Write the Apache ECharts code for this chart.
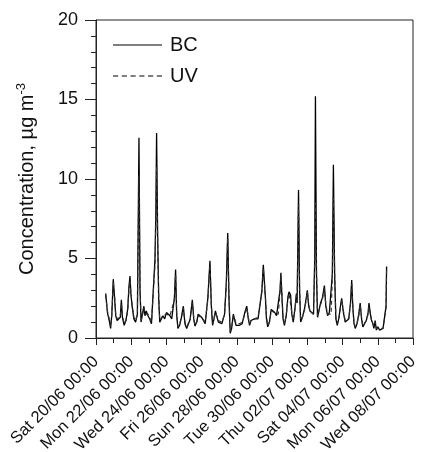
<!DOCTYPE html>
<html>
<head>
<meta charset="utf-8">
<script src="https://cdn.jsdelivr.net/npm/echarts@6/dist/echarts.min.js"></script>
<style>
html,body{margin:0;padding:0;background:#fff;}
#chart{width:422px;height:452px;}
</style>
</head>
<body>
<div id="chart"></div>
<script>
// time in days since Sat 20/06 00:00
const days = [0.55,0.65,0.75,0.83,0.9,0.98,1.05,1.12,1.2,1.3,1.38,1.44,1.5,1.6,1.7,1.8,1.87,1.93,1.98,2.05,2.15,2.25,2.35,2.44,2.5,2.56,2.65,2.72,2.78,2.85,2.95,3.05,3.15,3.25,3.35,3.4,3.44,3.5,3.56,3.62,3.7,3.8,3.9,4.0,4.1,4.2,4.3,4.45,4.52,4.58,4.65,4.75,4.85,4.96,5.05,5.15,5.25,5.35,5.47,5.55,5.62,5.72,5.8,5.9,6.0,6.1,6.2,6.35,6.47,6.55,6.62,6.7,6.78,6.85,6.95,7.05,7.15,7.3,7.4,7.48,7.55,7.62,7.7,7.8,7.88,7.95,8.05,8.15,8.3,8.45,8.56,8.65,8.72,8.8,8.9,9.0,9.1,9.2,9.3,9.42,9.5,9.56,9.62,9.68,9.75,9.85,9.95,10.05,10.15,10.25,10.35,10.45,10.5,10.55,10.62,10.7,10.8,10.9,10.96,11.05,11.12,11.2,11.3,11.38,11.42,11.5,11.56,11.62,11.72,11.85,11.95,12.0,12.08,12.15,12.25,12.35,12.42,12.46,12.52,12.58,12.65,12.75,12.85,12.97,13.05,13.15,13.25,13.35,13.42,13.48,13.55,13.62,13.7,13.8,13.88,13.95,14.05,14.15,14.25,14.35,14.45,14.52,14.58,14.65,14.72,14.82,14.92,15.0,15.08,15.15,15.25,15.35,15.45,15.5,15.58,15.65,15.72,15.78,15.85,15.92,16.0,16.1,16.2,16.3,16.4,16.47,16.5];
const bc = [2.8,1.6,1.1,0.6,1.5,3.7,2.6,1.4,1.1,1.0,1.3,2.4,1.3,0.8,1.1,1.8,3.2,3.9,2.8,2.0,1.2,1.0,1.5,12.6,3.0,1.0,1.6,2.0,1.4,1.7,1.4,1.2,0.9,0.9,5.0,8.0,12.9,6.5,2.5,1.0,1.0,1.4,1.2,1.6,1.5,1.4,1.2,2.5,4.3,1.5,0.6,0.8,1.3,2.0,0.9,0.6,0.7,1.2,2.4,1.2,0.75,1.0,1.5,1.4,1.3,1.1,0.9,2.5,4.85,2.0,0.8,1.2,1.7,1.4,1.0,1.0,0.9,1.5,3.5,6.6,2.5,0.3,0.6,1.5,1.1,0.8,0.9,0.8,0.9,1.6,2.0,1.2,0.8,1.1,1.2,1.2,1.2,1.2,1.3,3.0,4.6,4.5,2.5,1.2,0.7,1.0,1.8,1.7,1.6,1.4,1.5,3.0,4.1,2.8,1.2,0.8,1.4,2.6,2.9,2.7,1.5,1.0,1.9,2.8,2.2,9.3,3.0,1.0,1.3,1.9,2.6,3.0,2.0,1.7,1.6,1.5,5.0,15.2,4.0,1.3,1.4,2.2,2.5,3.3,2.0,1.4,1.6,1.5,4.0,10.9,4.0,1.2,0.8,1.3,2.0,2.5,1.6,1.0,1.0,1.2,2.2,3.65,2.0,0.9,0.6,0.9,1.5,2.2,1.2,0.7,0.9,1.1,1.6,2.2,1.5,1.1,0.9,0.6,1.1,0.5,0.7,0.5,0.5,0.6,0.7,2.0,4.5];
const uv = [2.7,1.7,1.2,0.7,1.5,3.5,2.7,1.5,1.2,1.1,1.3,2.2,1.4,0.9,1.1,1.7,3.0,3.6,2.9,2.1,1.3,1.1,1.5,10.2,3.2,1.1,1.5,1.9,1.5,1.6,1.5,1.3,1.0,1.0,4.6,7.4,10.8,6.2,2.7,1.1,1.1,1.4,1.3,1.5,1.5,1.4,1.3,2.4,4.0,1.6,0.7,0.9,1.3,1.9,1.0,0.7,0.8,1.2,2.2,1.3,0.8,1.0,1.4,1.4,1.3,1.2,1.0,2.4,4.6,2.1,0.9,1.2,1.6,1.4,1.1,1.0,1.0,1.5,3.3,6.3,2.6,0.4,0.7,1.4,1.2,0.9,0.9,0.9,1.0,1.5,1.9,1.3,0.9,1.1,1.2,1.2,1.2,1.3,1.3,2.9,4.4,4.4,2.6,1.3,0.8,1.0,1.7,1.7,1.6,1.5,1.5,2.9,3.9,2.9,1.3,0.9,1.4,2.5,2.8,2.7,1.6,1.1,1.8,2.7,2.3,8.4,3.1,1.1,1.3,1.8,2.5,2.9,2.1,1.7,1.6,1.5,4.6,8.5,4.2,1.4,1.4,2.1,2.4,3.1,2.1,1.5,1.6,1.5,3.8,8.8,4.1,1.3,0.9,1.3,1.9,2.4,1.7,1.1,1.0,1.2,2.1,3.4,2.1,1.0,0.7,0.9,1.4,2.1,1.3,0.8,0.9,1.1,1.5,2.0,1.5,1.1,0.9,0.7,1.0,0.6,0.7,0.6,0.6,0.6,0.7,1.9,4.3];
const tickLabels = ['Sat 20/06 00:00','Mon 22/06 00:00','Wed 24/06 00:00','Fri 26/06 00:00','Sun 28/06 00:00','Tue 30/06 00:00','Thu 02/07 00:00','Sat 04/07 00:00','Mon 06/07 00:00','Wed 08/07 00:00'];

const FONT = '"Liberation Sans", Arial, sans-serif';
const SOLID_ICON = 'path://M0,0L49,0L49,1L0,1Z';
const DASH_ICON = 'path://M0,0L5,0L5,1L0,1ZM8.5,0L13.5,0L13.5,1L8.5,1ZM17,0L22,0L22,1L17,1ZM25.5,0L30.5,0L30.5,1L25.5,1ZM34,0L39,0L39,1L34,1ZM42.5,0L47.5,0L47.5,1L42.5,1Z';
const chart = echarts.init(document.getElementById('chart'), null, {renderer:'canvas'});
chart.setOption({
  animation:false,
  backgroundColor:'#fff',
  textStyle:{fontFamily:FONT},
  grid:{left:96,right:9,top:20,bottom:114,show:true,borderColor:'#222',borderWidth:1,backgroundColor:'transparent',
    containLabel:false,outerBoundsMode:'none'},
  legend:{
    left:113, top:35, padding:0, orient:'vertical', itemWidth:49, itemHeight:1.3, itemGap:11,
    textStyle:{fontFamily:FONT,fontSize:20,color:'#111',padding:[0,0,0,3],lineHeight:16},
    data:[{name:'BC',icon:SOLID_ICON,itemStyle:{color:'#000'}},{name:'UV',icon:DASH_ICON,itemStyle:{color:'#000'}}]
  },
  xAxis:{
    type:'value', min:0, max:18, interval:2,
    axisLine:{lineStyle:{color:'#222',width:1}},
    axisTick:{length:7,lineStyle:{color:'#222'}},
    minorTick:{show:true,splitNumber:2,length:5,lineStyle:{color:'#222'}},
    splitLine:{show:false},
    axisLabel:{rotate:45,margin:21,fontSize:16.5,color:'#111',fontFamily:FONT,
      formatter:function(v){return tickLabels[Math.round(v/2)]||'';}}
  },
  yAxis:{
    type:'value', min:0, max:20, interval:5,
    name:'Concentration, µg m{sup|-3}', nameLocation:'middle', nameGap:56, nameRotate:90,
    nameTextStyle:{fontSize:20,color:'#111',fontFamily:FONT,
      rich:{sup:{fontSize:13,color:'#111',fontFamily:FONT,verticalAlign:'top',padding:[0,0,12,0]}}},
    axisLine:{show:true,lineStyle:{color:'#222',width:1}},
    axisTick:{length:11,lineStyle:{color:'#222'}},
    minorTick:{show:true,splitNumber:5,length:5,lineStyle:{color:'#222'}},
    splitLine:{show:false},
    axisLabel:{margin:18,fontSize:18,color:'#111',fontFamily:FONT}
  },
  series:[
    {name:'BC',type:'line',symbol:'none',data:days.map((d,i)=>[d,bc[i]]),
      lineStyle:{color:'#000',width:1.3,type:'solid'},itemStyle:{color:'#000'}},
    {name:'UV',type:'line',symbol:'none',data:days.map((d,i)=>[d,uv[i]]),
      lineStyle:{color:'#333',width:1.2,type:[4,3]},itemStyle:{color:'#333'}}
  ]
});
</script>
</body>
</html>
